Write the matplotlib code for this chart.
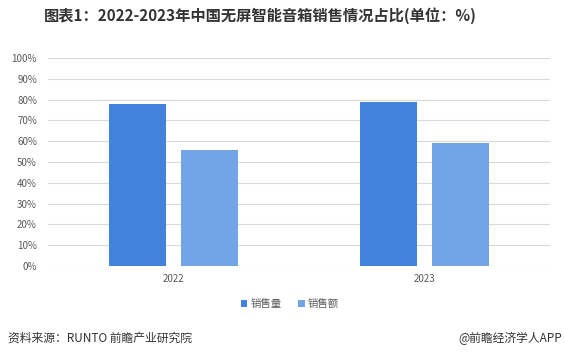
import numpy as np
import matplotlib.pyplot as plt

plt.rcParams['font.family'] = ['Noto Sans CJK SC', 'DejaVu Sans']
plt.rcParams['axes.unicode_minus'] = False

years = ['2022', '2023']
sales_volume = [78, 79]   # 销售量 %
sales_amount = [56, 59]   # 销售额 %
series_names = ['销售量', '销售额']
colors = ['#4483DB', '#71A5E7']

fig = plt.figure(figsize=(5.64, 3.6), dpi=100)
ax = fig.add_axes([48 / 564, 1 - 266 / 360, 502 / 564, 208 / 360])

x = np.arange(len(years))
w = 0.226
ax.bar(x - 0.143, sales_volume, w, color=colors[0], label=series_names[0], zorder=3)
ax.bar(x + 0.143, sales_amount, w, color=colors[1], label=series_names[1], zorder=3)

ax.set_xlim(-0.5, 1.5)
ax.set_ylim(0, 100)
ax.set_yticks(range(0, 101, 10))
ax.set_yticklabels([f'{v}%' for v in range(0, 101, 10)])
ax.set_xticks(x)
ax.set_xticklabels(years)
ax.grid(axis='y', color='#d9d9d9', linewidth=0.8, zorder=0)
for s in ax.spines.values():
    s.set_visible(False)
ax.tick_params(length=0, labelsize=7, colors='#595959', pad=6)
ax.tick_params(axis='y', pad=8)

fig.legend(loc='center', bbox_to_anchor=(290 / 564, 1 - 304 / 360), ncol=2, frameon=False,
           fontsize=7.5, handlelength=0.6, handleheight=0.6, handletextpad=0.3,
           columnspacing=1.6, labelcolor='#595959')

fig.text(260 / 564, 1 - 16 / 360, '图表1：2022-2023年中国无屏智能音箱销售情况占比(单位：%)',
         ha='center', va='center', fontsize=11, fontweight='bold', color='#333333')
fig.text(8 / 564, 1 - 338 / 360, '资料来源：RUNTO 前瞻产业研究院', ha='left', va='center',
         fontsize=8.5, color='#333333')
fig.text(562 / 564, 1 - 338 / 360, '@前瞻经济学人APP', ha='right', va='center',
         fontsize=8.5, color='#333333')

fig.savefig('out.png', dpi=100, facecolor='white')
